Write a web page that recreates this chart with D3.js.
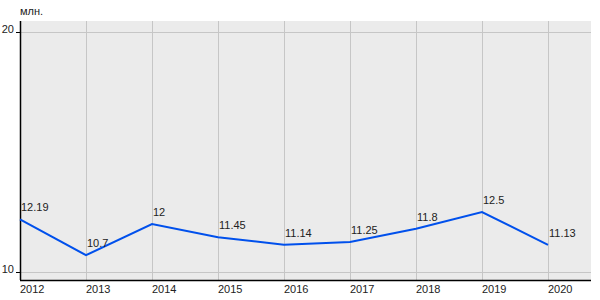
<!DOCTYPE html>
<html>
<head>
<meta charset="utf-8">
<script src="https://cdn.jsdelivr.net/npm/d3@7"></script>
<style>
body{margin:0;background:#fff;}
text{font-family:"Liberation Sans",Arial,sans-serif;font-size:11px;fill:#222;}
</style>
</head>
<body>
<div id="chart"></div>
<script>
// data
var years = [2012, 2013, 2014, 2015, 2016, 2017, 2018, 2019, 2020];
var values = [12.19, 10.7, 12, 11.45, 11.14, 11.25, 11.8, 12.5, 11.13];
var labels = ["12.19", "10.7", "12", "11.45", "11.14", "11.25", "11.8", "12.5", "11.13"];
var yTicks = [10, 20];
var unit = "млн.";

var W = 600, H = 300,
	plotL = 20, plotR = 591, plotT = 21, plotB = 280;

var svg = d3.select("#chart").append("svg").attr("width", W).attr("height", H);

var x = d3.scaleLinear().domain([2012, 2020]).range([plotL, 548]);
var y = d3.scaleLinear().domain([10, 20]).range([272, 32]);

//background
svg.append("rect").attr("x", plotL).attr("y", plotT)
	.attr("width", plotR - plotL).attr("height", plotB - plotT)
	.attr("fill", "#ebebeb");

//grid
svg.selectAll("line.vg").data(years).enter().append("line")
	.attr("class", "vg")
	.attr("x1", function(d){return Math.round(x(d)) + 0.5;})
	.attr("x2", function(d){return Math.round(x(d)) + 0.5;})
	.attr("y1", plotT).attr("y2", plotB)
	.attr("stroke", "#c6c6c6").attr("stroke-width", 1);

svg.selectAll("line.hg").data(yTicks).enter().append("line")
	.attr("class", "hg")
	.attr("x1", plotL).attr("x2", plotR)
	.attr("y1", function(d){return Math.round(y(d)) + 0.5;})
	.attr("y2", function(d){return Math.round(y(d)) + 0.5;})
	.attr("stroke", "#c6c6c6").attr("stroke-width", 1);

//axes
svg.append("line").attr("x1", plotL + 0.5).attr("x2", plotL + 0.5)
	.attr("y1", plotT).attr("y2", plotB)
	.attr("stroke", "#000").attr("stroke-width", 1.5);
svg.append("line").attr("x1", plotL).attr("x2", plotR)
	.attr("y1", plotB + 0.5).attr("y2", plotB + 0.5)
	.attr("stroke", "#000").attr("stroke-width", 1.5);

//y ticks
svg.selectAll("line.yt").data(yTicks).enter().append("line")
	.attr("class", "yt")
	.attr("x1", plotL - 4).attr("x2", plotL)
	.attr("y1", function(d){return Math.round(y(d)) + 0.5;})
	.attr("y2", function(d){return Math.round(y(d)) + 0.5;})
	.attr("stroke", "#000");
svg.selectAll("text.yl").data(yTicks).enter().append("text")
	.attr("class", "yl")
	.attr("x", plotL - 6).attr("y", function(d){return y(d) + 1;})
	.attr("text-anchor", "end")
	.text(function(d){return d;});

svg.append("text").attr("x", plotL).attr("y", 15).text(unit);

//x labels
svg.selectAll("text.xl").data(years).enter().append("text")
	.attr("class", "xl")
	.attr("x", function(d){return x(d);})
	.attr("y", 293)
	.text(function(d){return d;});

//line
var line = d3.line()
	.x(function(d, i){return x(years[i]);})
	.y(function(d){return y(d);});
svg.append("path").datum(values)
	.attr("d", line)
	.attr("fill", "none")
	.attr("stroke", "#0050ec")
	.attr("stroke-width", 2);

//value labels
svg.selectAll("text.vl").data(values).enter().append("text")
	.attr("class", "vl")
	.attr("x", function(d, i){return x(years[i]) + 1;})
	.attr("y", function(d){return y(d) - 8;})
	.text(function(d, i){return labels[i];});
</script>
</body>
</html>
